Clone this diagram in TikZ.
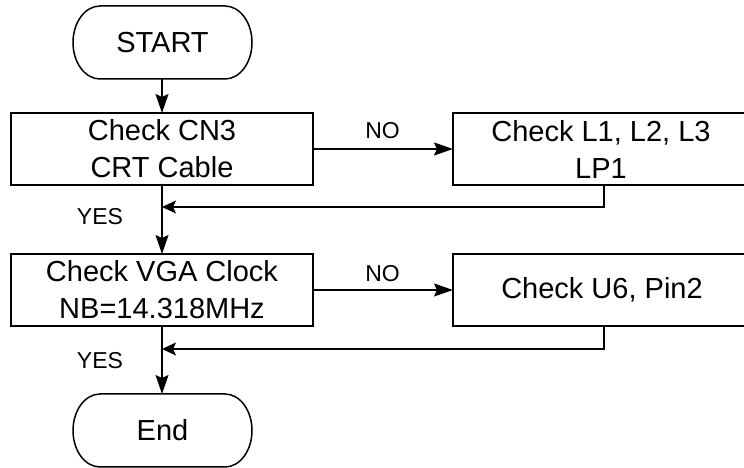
\documentclass[tikz,border=0pt]{standalone}
\usepackage{fontspec}
\setmainfont{Liberation Sans}
\usetikzlibrary{arrows.meta,calc}
\begin{document}
\begin{tikzpicture}[x=1pt,y=1pt,
  line width=1.5pt,
  box/.style={draw, rectangle, minimum height=72pt, inner sep=0pt, outer sep=0pt,
    align=center, font=\fontsize{29}{37}\selectfont},
  term/.style={rectangle, minimum width=179pt, minimum height=73pt, inner sep=0pt,
    outer sep=0pt, font=\fontsize{29}{37}\selectfont},
  lbl/.style={font=\fontsize{23}{27}\selectfont, inner sep=0pt},
  arr/.style={-{Stealth[length=19pt,width=13pt,inset=3pt]}},
  arrs/.style={-{Stealth[length=14pt,width=13pt,inset=3pt]}},
]
\useasboundingbox (0,0) rectangle (744,468);
\clip (0,0) rectangle (744,468);
\fill[white] (0,0) rectangle (744,468);

% nodes
\node[term] (s) at (162.5,425.5) {START};
\node[box, minimum width=302pt] (b1) at (162,319) {Check CN3\\CRT Cable};
\node[box, minimum width=296pt] (b2) at (601,319) {Check L1, L2, L3\\LP1};
\node[box, minimum width=302pt] (b3) at (162,178) {Check VGA Clock\\NB=14.318MHz};
\node[box, minimum width=298pt] (b4) at (602,178) {Check U6, Pin2};
\node[term] (e) at (162.5,37.5) {End};

% terminal outlines (elliptic ends)
\foreach \t in {s,e}{
  \draw ($(\t.north west)+(27,0)$) -- ($(\t.north east)+(-27,0)$)
    arc[start angle=90, end angle=-90, x radius=27pt, y radius=36.5pt]
    -- ($(\t.south west)+(27,0)$)
    arc[start angle=270, end angle=90, x radius=27pt, y radius=36.5pt]
    -- cycle;
}

% labels
\node[lbl] (no1) at (382.5,337) {NO};
\node[lbl] (no2) at (382.5,194) {NO};
\node[lbl] (yes1) at (100,251) {YES};
\node[lbl] (yes2) at (100,107) {YES};

% junction points
\coordinate (j1) at (162,261);
\coordinate (j2) at (162,119);

% connectors
\draw[arr] (s.south -| b1.north) -- (b1.north);
\draw[arr] (b1.east) -- (b2.west);
\draw[arr] (b1.south) -- (b3.north);
\draw[arr] (b3.east) -- (b4.west);
\draw[arr] (b3.south) -- (b3.south |- e.north);
\draw[arrs] ([xshift=3pt]b2.south) |- (j1);
\draw[arrs] ([xshift=2pt]b4.south) |- (j2);
\end{tikzpicture}
\end{document}
